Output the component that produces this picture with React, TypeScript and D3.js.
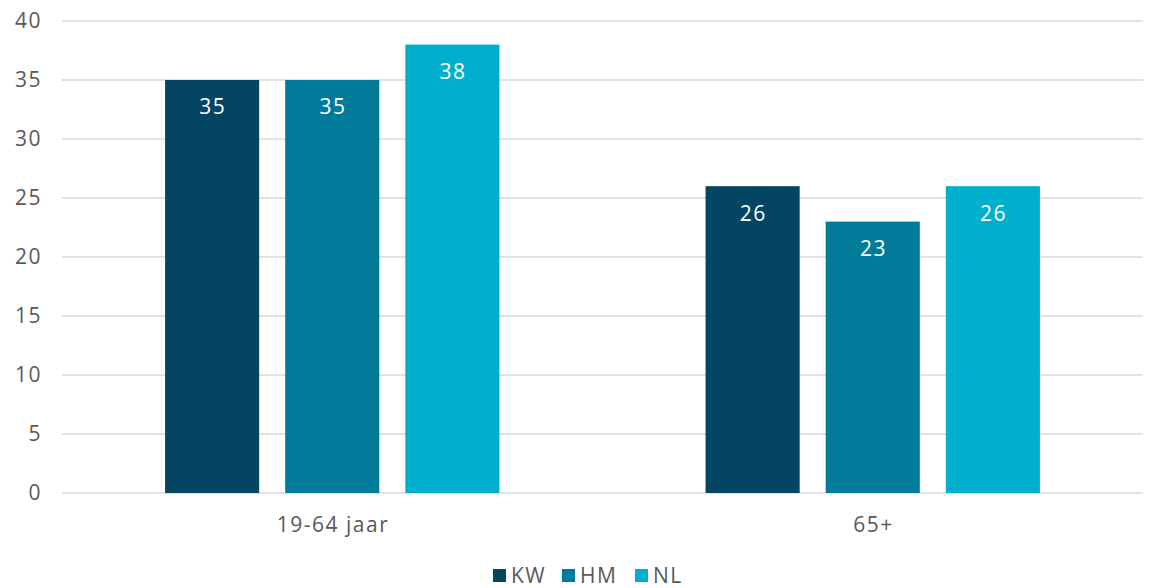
import React from "react";
import * as d3 from "d3";

const categories = ["19-64 jaar", "65+"];
const seriesNames = ["KW", "HM", "NL"];
const kwValues = [35, 26];
const hmValues = [35, 23];
const nlValues = [38, 26];
const yTicks = [0, 5, 10, 15, 20, 25, 30, 35, 40];
const colors = ["#034563", "#007b99", "#00afcb"];

const W = 1150, H = 588;
const M = { left: 62, right: 7, top: 21, bottom: 95 };
const FONT = "'Open Sans', 'DejaVu Sans', sans-serif";
const FS = 21;
const LS = 1.5;

export default function App() {
  const series = [kwValues, hmValues, nlValues];
  const x0 = d3.scaleBand<string>().domain(categories).range([M.left, W - M.right]).paddingInner(0).paddingOuter(0);
  const x1 = d3.scaleBand<string>().domain(seriesNames).range([0, x0.bandwidth()]).paddingInner(0.2167).paddingOuter(0.858);
  const y = d3.scaleLinear().domain([0, 40]).range([H - M.bottom, M.top]);
  return (
    <svg width={W} height={H} style={{ position: "absolute", left: 0, top: 0, background: "#fff" }} fontFamily={FONT} letterSpacing={LS}>
      {yTicks.map((t) => (
        <g key={t}>
          <line x1={M.left} x2={W - M.right} y1={y(t)} y2={y(t)} stroke="#d9d9d9" strokeWidth={1.5} />
          <text x={42} y={y(t)} dy="0.35em" textAnchor="end" fontSize={FS} fill="#595959">{t}</text>
        </g>
      ))}
      {categories.map((c, ci) => (
        <g key={c}>
          {seriesNames.map((s, si) => {
            const v = series[si][ci];
            const bx = (x0(c) as number) + (x1(s) as number);
            return (
              <g key={s}>
                <rect x={bx} y={y(v)} width={x1.bandwidth()} height={y(0) - y(v)} fill={colors[si]} />
                <text x={bx + x1.bandwidth() / 2 + LS / 2} y={y(v) + 27} dy="0.35em" textAnchor="middle" fontSize={FS} fill="#ffffff">{v}</text>
              </g>
            );
          })}
          <text x={(x0(c) as number) + x0.bandwidth() / 2 + LS / 2} y={525} dy="0.35em" textAnchor="middle" fontSize={FS} fill="#595959">{c}</text>
        </g>
      ))}
      {seriesNames.map((s, si) => {
        const lx = [493, 562, 635][si];
        return (
          <g key={s}>
            <rect x={lx} y={569} width={13} height={13} fill={colors[si]} />
            <text x={lx + 18} y={576} dy="0.35em" fontSize={FS} fill="#595959">{s}</text>
          </g>
        );
      })}
    </svg>
  );
}
